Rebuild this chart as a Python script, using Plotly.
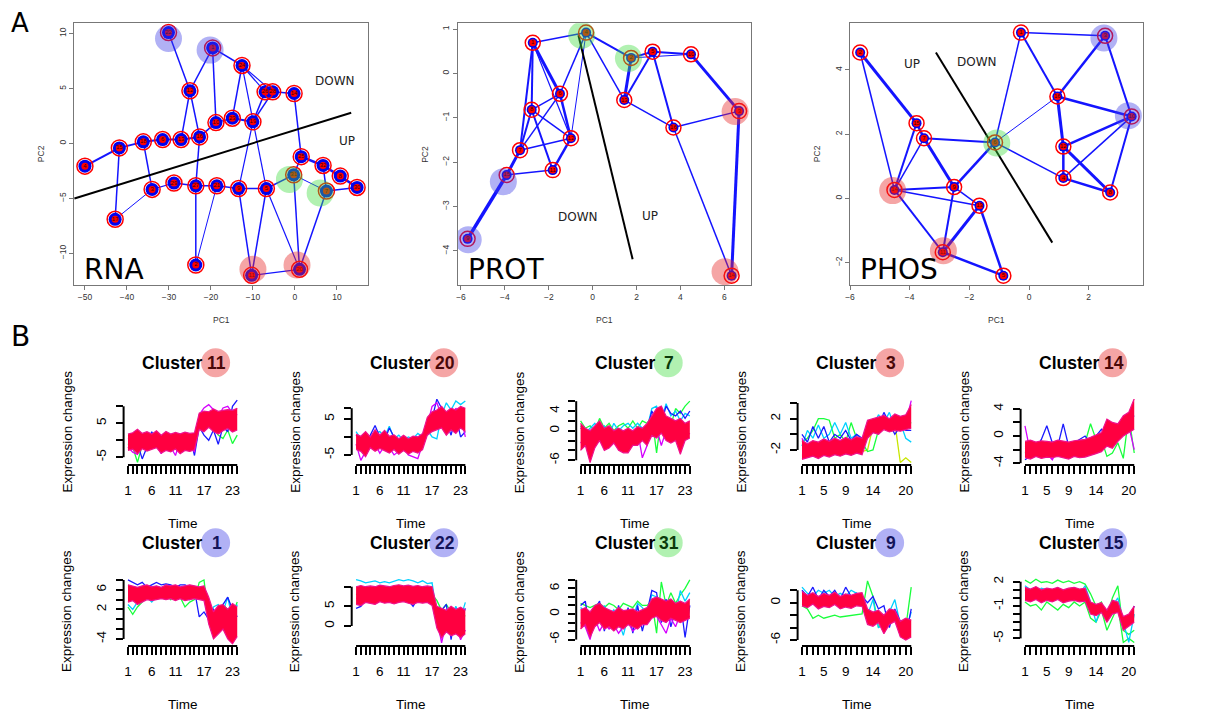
import plotly.graph_objects as go

W, H = 1224, 715
OFF = 8  # page body margin of the viewer


def fx(p):
    return (p - OFF) / W


def fy(p):
    return 1 - (p - OFF) / H


def sfx(k):
    return "" if k == 1 else str(k)


# ================= Panel A data =================
rna_labels = ["22", "1", "24", "12", "26", "28", "14", "10", "23", "19", "15", "4", "18", "6", "13", "16",
              "25", "32", "8", "30", "31", "7", "3", "29", "27", "21", "9", "5", "17", "2", "11", "20"]
rna_pc1 = [-30.1, -19.6, -12.6, -25.0, -7.1, -5.3, -0.2, -18.8, -14.9, -10.0, -41.8, -50.0, -36.1, -31.5, -27.1, -22.7,
           1.5, 6.7, 10.8, 14.8, -0.3, 7.5, -34.0, -28.8, -23.6, -18.6, -13.4, -6.8, -42.8, -23.6, -10.3, 1.1]
rna_pc2 = [10.1, 8.7, 7.1, 4.8, 4.7, 4.7, 4.55, 1.9, 2.3, 1.97, -0.4, -2.06, 0.15, 0.36, 0.36, 0.6,
           -1.2, -2.0, -2.97, -4.0, -2.85, -4.33, -4.18, -3.6, -3.85, -3.85, -4.1, -4.1, -6.9, -11.06, -12.0, -11.45]
rna_edges = [(11, 10, 2.2), (10, 12, 2), (12, 13, 2), (13, 14, 2), (14, 15, 2), (15, 7, 1.5), (7, 8, 1.5),
             (8, 9, 2), (7, 1, 1.5), (1, 3, 1.5), (0, 3, 1.5), (1, 2, 1.5), (2, 8, 1.5), (2, 4, 1.2), (2, 5, 1.2),
             (4, 9, 1.5), (5, 9, 1.5), (4, 5, 2), (5, 6, 1.5), (6, 16, 1.5), (16, 17, 2.5), (17, 18, 2.5),
             (18, 19, 2.5), (17, 21, 1.5), (16, 20, 1.5), (20, 21, 1), (21, 19, 1.5), (21, 31, 1.5), (20, 27, 1.5),
             (20, 31, 1.5), (3, 14, 1.5), (3, 15, 1.5), (10, 28, 1.5), (28, 22, 1), (22, 12, 1.5), (22, 23, 1.2),
             (23, 24, 1.5), (24, 25, 1.5), (25, 26, 1.5), (26, 27, 1.5), (15, 24, 1.5), (24, 29, 1.5),
             (29, 25, 1), (26, 30, 1.5), (9, 26, 1.2), (27, 30, 1.5), (2, 27, 1.2), (27, 31, 1.2), (30, 31, 1.2)]
rna_shade_x = [-30.1, -20.2, -1.3, 6.0, -10.0, 0.5]
rna_shade_y = [9.55, 8.5, -3.27, -4.5, -11.45, -11.06]
rna_shade_c = ["blue", "blue", "green", "green", "red", "red"]
rna_split_x = [-52.5, 13.4]
rna_split_y = [-5.0, 2.8]
rna_words = [("DOWN", 9.6, 5.7), ("UP", 12.4, 0.24)]

prot_labels = ["4", "1", "2", "5", "10", "6", "13", "8", "3", "16", "12", "7", "11", "15", "9", "14"]
prot_pc1 = [-0.30, -2.73, 1.75, 2.73, 4.48, -1.49, 1.44, -2.78, 6.67, 3.68, -0.99, -3.31, -1.82, -3.92, -5.70, 6.33]
prot_pc2 = [0.92, 0.69, 0.35, 0.49, 0.43, -0.46, -0.60, -0.82, -0.85, -1.22, -1.46, -1.73, -2.18, -2.29, -3.73, -4.56]
prot_edges = [(14, 13, 3.5), (13, 11, 3), (13, 12, 1.5), (11, 7, 2), (11, 1, 2), (11, 5, 1.5), (11, 10, 1.5),
              (7, 1, 2), (7, 5, 1.5), (7, 12, 2), (7, 10, 1.5), (1, 5, 3), (1, 10, 1.2), (1, 0, 1.5),
              (5, 10, 2.5), (5, 0, 1.5), (10, 12, 2.5), (10, 0, 1), (0, 2, 2), (0, 6, 1.5), (2, 6, 3), (2, 3, 2),
              (6, 3, 2), (6, 9, 1.5), (3, 4, 2), (3, 9, 2), (4, 8, 3), (9, 8, 1.5), (9, 15, 1.5), (8, 15, 3),
              (2, 4, 1)]
prot_shade_x = [-0.5, 1.63, 6.49, 6.03, -4.07, -5.67]
prot_shade_y = [0.86, 0.34, -0.86, -4.47, -2.44, -3.75]
prot_shade_c = ["green", "green", "red", "red", "blue", "blue"]
prot_split_x = [-0.65, 1.82]
prot_split_y = [0.86, -4.19]
prot_words = [("DOWN", -0.65, -3.24), ("UP", 2.61, -3.21)]

phos_labels = ["1", "3", "2", "16", "10", "15", "7", "6", "12", "4", "8", "14", "9", "13", "11", "5"]
phos_pc1 = [-0.27, 2.55, -5.66, 0.95, 3.44, -3.77, -3.52, -1.14, 1.15, 1.15, 2.72, -4.51, -2.51, -1.66, -2.89, -0.86]
phos_pc2 = [5.16, 5.06, 4.54, 3.17, 2.55, 2.34, 1.87, 1.74, 1.61, 0.63, 0.18, 0.26, 0.35, -0.23, -1.68, -2.41]
phos_edges = [(2, 5, 3), (2, 11, 1.5), (5, 6, 2.5), (5, 11, 2), (6, 11, 1.5), (6, 12, 3), (6, 7, 2),
              (11, 12, 2), (11, 13, 1.5), (11, 14, 2), (12, 7, 2.5), (12, 14, 2), (13, 14, 3), (13, 15, 2.5),
              (14, 15, 2.5), (7, 0, 1.5), (7, 3, 1), (7, 9, 1.5), (0, 1, 1.5), (0, 3, 2), (3, 1, 2.5),
              (3, 4, 2.5), (3, 8, 3), (8, 4, 2.5), (8, 9, 2.5), (8, 10, 3), (9, 4, 1.5), (9, 10, 2.5),
              (4, 10, 2), (4, 1, 2), (12, 13, 1.5)]
phos_shade_x = [2.51, 3.33, -1.08, -4.57, -2.87]
phos_shade_y = [4.99, 2.57, 1.72, 0.24, -1.63]
phos_shade_c = ["blue", "blue", "green", "red", "red"]
phos_split_x = [-3.12, 0.78]
phos_split_y = [4.54, -1.38]
phos_words = [("UP", -3.93, 4.19), ("DOWN", -1.75, 4.23)]

# ================= Panel B data =================
rna_time = list(range(1, 25))
pp_time = list(range(1, 22))

c11_hi = [1.8, 2.2, 3.2, 2.0, 2.5, 1.8, 2.8, 1.5, 2.6, 1.8, 2.3, 1.9, 2.4, 2.0, 2.2, 8.0, 8.6, 8.4, 9.2, 8.5, 8.8, 9.0, 8.8, 9.4]
c11_lo = [-3.0, -2.6, -4.0, -2.5, -3.2, -2.8, -2.2, -3.8, -3.0, -3.4, -2.6, -4.0, -3.0, -3.3, -2.8, 3.2, 2.5, 3.8, 2.6, 1.8, 2.8, 3.5, 2.4, 3.0]
c11_extra = [
    ("green", [-1.0, -2.0, -6.5, -1.5, -3.0, 0.5, -2.0, 0.0, -1.5, 0.5, -2.0, 0.0, -1.0, 1.0, 0.0, 6.0, 4.0, 5.0, 3.5, 1.5, 0.5, 3.0, -1.0, 1.5]),
    ("blue", [0.5, 1.0, -1.0, -5.5, -2.0, 2.5, 0.0, -1.5, 1.0, -2.5, 0.5, -1.0, 2.0, 1.5, -4.5, 4.0, 1.5, 0.0, 3.0, -1.2, 4.0, 2.5, 10.0, 11.8]),
    ("magenta", [-2.0, -3.5, -4.2, -1.0, -3.0, 0.0, -1.5, -4.0, -0.5, -2.0, -4.5, 0.0, -2.5, -1.0, -3.5, 7.5, 9.5, 10.5, 9.0, 7.0, 9.5, 10.0, 8.0, 7.5]),
]
c20_hi = [0.8, 0.2, 1.5, 0.0, 2.0, 0.5, 1.8, 0.2, 0.6, -0.5, 0.5, -0.5, 0.2, 0.0, 1.0, 5.5, 7.0, 7.5, 8.5, 7.0, 8.0, 7.5, 8.5, 8.0]
c20_lo = [-3.5, -4.0, -5.5, -3.0, -4.0, -3.2, -3.8, -4.5, -3.5, -4.8, -3.8, -4.8, -4.0, -4.5, -3.5, 0.5, 1.5, 2.0, 2.5, 0.5, 2.0, 1.0, 2.5, 1.5]
c20_extra = [
    ("cyan", [1.5, -0.5, 0.5, -1.0, 1.0, 1.5, 0.0, 3.0, -0.5, 0.5, -1.0, 0.0, -0.5, 1.0, 0.0, 2.0, 0.0, -0.5, 6.0, 9.5, 7.5, 10.0, 9.0, 10.0]),
    ("blue", [0.5, -1.0, -1.5, 0.5, 3.2, 0.0, -1.0, 2.5, 0.0, -2.0, 0.0, -1.0, -1.5, 0.0, 0.5, 3.5, 5.0, 10.5, 8.0, 4.0, 0.5, 6.0, 0.0, 1.5]),
    ("magenta", [-2.0, -6.5, -4.0, -3.0, -2.0, -4.5, -2.5, -3.0, -5.0, -4.0, -3.0, -5.0, -5.5, -6.0, -2.0, 3.0, 8.5, 9.5, 6.0, 5.5, 4.0, 8.0, 6.0, 0.0]),
]
c7_hi = [1.5, 0.5, 0.0, 1.0, 2.0, 0.5, 1.0, 0.0, 0.5, 0.0, 0.5, 0.0, 0.8, 0.5, 1.5, 3.0, 4.5, 5.0, 3.0, 2.5, 2.0, 2.5, 1.5, 2.0]
c7_lo = [-4.0, -3.0, -6.5, -3.5, -2.0, -4.0, -3.5, -2.5, -4.0, -4.5, -4.5, -3.0, -3.0, -2.0, -3.0, -1.0, -1.5, -0.5, -2.0, -2.5, -2.0, -4.8, -2.0, -1.5]
c7_extra = [
    ("green", [2.0, 0.5, 1.0, 0.0, 2.5, 0.5, 1.5, 0.0, 1.0, 1.5, 0.5, 2.0, 0.5, 2.0, 1.5, 3.0, -4.5, 3.0, 2.0, 1.0, 4.5, 3.5, 5.0, 6.0]),
    ("cyan", [1.0, -0.5, 0.5, 1.5, 0.0, 1.0, -1.0, 1.5, 0.0, 1.0, 1.5, 0.5, 1.5, 0.5, 0.5, 4.5, 5.0, 2.0, 5.5, 3.0, 4.0, 2.0, 3.5, 3.0]),
    ("blue", [0.5, 0.0, -1.5, -0.5, 1.0, -1.5, 0.0, -2.0, 0.5, -1.0, -0.5, 0.0, -2.0, -1.0, 0.0, 4.0, 2.0, 1.5, 5.0, 3.5, 3.0, 4.0, 2.5, 4.0]),
    ("magenta", [-2.5, -1.5, -3.0, -2.0, 0.0, -3.0, -1.0, -2.5, -1.5, -3.5, -1.0, -2.0, 0.0, -5.5, -3.0, 1.0, 0.5, -3.0, 0.0, -2.0, -1.0, 0.5, -1.5, -0.5]),
]
c3_hi = [-0.8, -1.2, -0.8, -1.0, -0.6, -0.9, -0.5, -0.8, -0.4, -0.7, -0.3, -0.5, 1.8, 2.0, 2.2, 2.4, 2.0, 2.6, 2.3, 2.5, 3.8]
c3_lo = [-3.2, -3.0, -2.8, -3.1, -2.7, -2.9, -2.6, -2.8, -2.5, -2.7, -2.4, -2.6, -0.5, 0.2, 0.0, 0.6, 0.3, 0.5, 0.4, 0.6, 0.8]
c3_extra = [
    ("yellow", [-1.5, -1.5, -1.2, -1.5, -1.3, -1.4, -1.2, -1.4, -1.3, -1.4, -1.2, -2.2, -2.0, 1.0, 1.5, 1.2, 1.8, 1.5, -3.6, -3.0, -3.6]),
    ("green", [-1.0, -0.5, 0.5, 2.0, 2.0, 1.8, -0.5, 0.0, -1.0, 1.5, -0.5, -1.0, -2.2, -2.0, 0.5, 1.5, 1.0, 0.5, 1.5, 1.0, 1.5]),
    ("cyan", [-1.5, 0.5, -0.5, 1.2, -0.5, 0.0, 1.5, 0.0, 1.5, -0.5, 0.0, -0.8, 0.0, 1.0, 2.5, 1.5, 2.8, 0.8, 1.5, -0.5, -1.0]),
    ("blue", [0.0, -1.0, 1.0, -0.5, 1.0, -1.0, 0.0, -0.5, 0.5, -0.8, 0.0, -0.5, 0.0, 0.5, 1.0, 2.8, 1.5, 0.0, 1.0, 0.5, 0.5]),
    ("magenta", [-0.5, -2.0, -1.5, -2.5, -1.0, -2.0, -1.5, -2.5, -1.0, -2.0, -1.5, -1.8, 0.5, 1.0, 0.0, 1.5, 0.5, 1.0, 0.5, 1.5, 4.3]),
]
c14_hi = [-0.8, -0.6, -0.9, -0.7, -0.8, -0.9, -0.6, -0.8, -0.9, -0.7, -0.6, -0.5, -0.2, 0.2, 0.5, 2.5, 2.0, 1.8, 3.0, 3.5, 5.5]
c14_lo = [-3.2, -3.4, -3.0, -3.3, -3.1, -3.2, -3.0, -3.2, -3.4, -3.0, -3.2, -3.1, -2.9, -2.6, -2.3, -1.5, -1.8, -0.8, 0.0, 0.5, 1.0]
c14_extra = [
    ("green", [-2.5, -2.0, -1.5, -2.0, -2.0, -1.0, -2.0, -1.5, -2.0, -1.5, -1.5, -1.0, 1.8, -0.5, -0.5, -3.0, -2.5, -1.0, -3.3, 3.0, -2.5]),
    ("blue", [-3.5, -3.0, -2.0, -0.5, 1.5, -1.0, -1.5, 1.8, -1.5, -1.0, -0.5, 0.0, -1.0, 0.0, 1.0, 0.0, -1.5, 1.0, 2.0, 2.5, 3.0]),
    ("magenta", [1.5, -2.5, -2.0, -3.0, -2.5, -3.5, -2.0, -2.5, -3.0, -2.0, -2.5, -2.0, -2.0, -1.0, -2.0, 0.5, -1.0, 0.5, 1.0, 1.5, -2.0]),
]
c1_hi = [7.0, 6.8, 6.5, 6.8, 7.0, 6.6, 6.8, 6.5, 7.0, 6.8, 7.0, 6.6, 6.8, 7.0, 6.8, 6.6, 6.8, 4.5, 1.5, 2.8, 3.0, 2.0, 3.2, 2.5]
c1_lo = [3.5, 3.8, 3.0, 3.5, 4.0, 3.8, 4.0, 4.2, 4.0, 4.2, 3.8, 4.2, 3.8, 4.0, 4.2, 4.0, 3.8, -1.0, -4.0, -3.0, -2.0, -4.0, -5.0, -3.5]
c1_extra = [
    ("green", [2.5, 1.0, 2.5, 3.5, 4.5, 4.0, 5.0, 4.5, 5.0, 4.0, 5.5, 4.5, 2.5, 3.5, 4.0, 7.5, 8.0, 0.5, -2.0, 1.0, 3.0, 2.0, 1.0, 3.5]),
    ("cyan", [3.0, 2.0, 3.5, 4.0, 4.5, 3.5, 4.5, 5.0, 4.5, 5.0, 4.0, 5.0, 4.5, 4.0, 5.0, 6.0, 5.5, 0.0, 2.5, 3.0, 1.5, 4.5, 0.0, 3.0]),
    ("blue", [8.0, 7.5, 7.0, 7.5, 6.5, 7.0, 7.5, 7.0, 7.2, 7.0, 6.5, 7.0, 7.0, 6.5, 6.0, 0.5, 1.5, 0.0, 2.0, 1.0, 3.0, 4.5, 2.0, 0.5]),
]
c22_hi = [10.0, 10.3, 10.0, 10.2, 10.0, 10.4, 10.2, 10.0, 10.3, 10.5, 10.2, 10.4, 10.1, 10.3, 10.0, 10.2, 10.0, 5.0, 4.5, 4.0, 5.0, 4.2, 4.8, 4.0]
c22_lo = [5.5, 5.2, 6.0, 5.8, 5.5, 6.2, 5.8, 6.0, 5.6, 6.0, 6.2, 5.8, 5.5, 6.0, 5.8, 6.0, 5.2, -0.5, -3.0, -1.5, -2.5, -2.0, -3.0, -2.0]
c22_extra = [
    ("cyan", [11.8, 11.5, 11.0, 11.2, 11.5, 11.0, 11.3, 11.0, 11.5, 11.8, 11.5, 11.8, 11.5, 11.0, 11.5, 10.8, 11.0, 3.0, 2.5, 3.5, 2.0, 5.0, 2.0, 6.0]),
    ("green", [8.0, 8.5, 9.0, 8.5, 9.0, 8.5, 9.0, 8.5, 9.0, 9.5, 9.0, 8.5, 9.0, 9.5, 9.0, 8.5, 8.0, 6.5, 4.0, 5.5, 3.5, 4.0, 3.0, 2.5]),
    ("blue", [4.5, 5.0, 6.5, 7.0, 6.5, 7.0, 6.5, 7.0, 7.5, 7.0, 8.0, 6.5, 5.0, 7.0, 8.0, 8.5, 9.5, 1.5, 4.0, 5.5, -3.5, 4.0, 1.0, 4.5]),
    ("magenta", [7.0, 7.5, 7.0, 8.0, 7.5, 8.0, 7.0, 7.5, 8.0, 7.5, 7.0, 8.0, 7.5, 7.0, 7.5, 8.0, 7.0, 2.0, -4.3, 1.0, -1.0, 0.5, -3.5, -1.0]),
]
c31_hi = [1.0, 1.5, 0.5, 2.0, 2.5, 1.5, 1.0, 0.5, 1.5, 0.8, 1.0, 1.2, 0.5, 1.0, 1.5, 3.5, 4.0, 3.5, 3.0, 3.5, 2.5, 3.0, 2.5, 3.5]
c31_lo = [-3.5, -2.5, -5.5, -3.0, -2.0, -3.5, -3.0, -4.0, -3.0, -3.5, -2.5, -3.0, -3.5, -2.5, -2.5, -1.0, -0.5, -1.5, -2.0, -1.0, -1.5, -2.0, -1.5, -1.0]
c31_extra = [
    ("green", [2.5, 2.0, 1.5, 2.0, 2.5, 1.5, 2.5, 2.0, 1.0, 2.5, 2.0, 1.5, 3.0, 2.0, 2.0, 3.0, -4.5, 7.5, 2.0, 5.0, 2.5, 4.5, 6.0, 8.0]),
    ("cyan", [1.5, 0.5, -2.0, 1.5, -1.0, 2.0, -0.5, 1.0, -1.5, -5.0, -0.5, -1.0, 2.5, 1.5, 0.0, 4.5, 4.0, 3.0, 1.0, 2.5, 0.0, 5.5, 3.0, 5.0]),
    ("blue", [2.0, 3.0, -4.5, 1.0, 3.0, -4.0, 0.5, -3.5, 2.0, -3.0, 1.5, -4.5, 2.0, -4.0, 0.5, 5.5, 5.0, -2.0, 3.5, -3.0, 1.0, 3.0, -5.5, 2.0]),
    ("magenta", [-2.0, -3.0, -6.0, -1.0, -4.0, -2.0, -3.5, -2.5, -4.5, -3.0, -2.0, -4.0, -3.0, -2.5, -1.0, 1.5, -0.5, -2.5, -4.5, -1.0, -3.0, 0.0, -1.0, -0.5]),
]
c9_hi = [1.8, 1.2, 1.6, 1.0, 1.5, 1.2, 1.7, 1.0, 1.4, 1.2, 1.5, 1.6, -1.0, -1.5, -1.2, -2.0, -1.0, -1.2, -3.0, -2.5, -2.8]
c9_lo = [-0.5, -0.8, -0.2, -1.0, -0.6, -0.8, -0.3, -1.0, -0.7, -0.9, -0.5, -0.6, -3.5, -3.8, -3.2, -5.0, -3.5, -3.0, -5.5, -6.0, -5.5]
c9_extra = [
    ("green", [-0.5, -1.0, -2.5, -2.0, -2.5, -2.3, -2.0, -2.3, -2.2, -2.0, -2.0, -1.8, 3.5, 1.0, -4.0, -3.0, -2.0, -2.5, -3.0, -4.0, 2.5]),
    ("cyan", [2.5, 1.5, 1.0, 2.0, 1.5, 2.0, 1.0, 1.5, 1.0, 2.0, 1.5, 0.5, -2.0, 0.5, -4.0, -3.5, -1.5, 0.5, -3.5, -4.5, -1.5]),
    ("blue", [2.0, 1.0, 2.5, 0.5, 2.0, 1.0, 2.0, 0.5, 2.5, 1.0, 1.5, 1.0, 0.0, 1.0, -1.0, -0.5, -4.0, -1.0, -3.0, -5.5, -1.0]),
]
c15_hi = [1.3, 1.1, 1.4, 1.0, 1.2, 1.1, 1.3, 1.0, 1.2, 1.3, 1.1, 1.2, -0.5, -0.8, -0.6, -1.5, -0.3, -0.5, -2.3, -2.0, -1.0]
c15_lo = [-0.3, -0.5, -0.2, -0.6, -0.3, -0.5, -0.2, -0.6, -0.4, -0.3, -0.5, -0.4, -2.0, -2.2, -1.8, -3.0, -2.0, -1.8, -4.0, -3.5, -3.0]
c15_extra = [
    ("green", [2.2, 1.8, 2.3, 1.9, 2.0, 1.8, 2.2, 1.9, 2.1, 1.8, 2.0, 1.7, 0.5, -1.0, -0.5, -2.5, 0.0, 1.5, -4.0, -4.5, -4.0]),
    ("green", [-0.5, -1.0, -0.8, -1.5, -0.5, -1.0, -1.5, -0.8, -1.2, -0.5, -1.0, -0.5, -2.5, -3.0, -1.5, -4.0, -2.5, -1.0, -5.5, -5.0, -5.5]),
    ("cyan", [1.5, 1.0, 0.5, 1.2, 1.0, 0.3, 1.0, 0.5, 0.8, 1.0, 0.5, 1.5, -0.5, -3.0, -1.0, -2.0, -1.0, 0.0, -3.0, -5.5, -2.0]),
    ("blue", [1.0, 0.8, 1.2, 0.8, 1.0, 0.8, 1.0, 0.8, 1.0, 0.8, 1.0, 0.9, -1.5, -2.0, -1.5, -2.5, -1.5, -1.0, -3.5, -3.0, -1.0]),
]

rna_tick_text = {1: "1", 6: "6", 11: "11", 17: "17", 23: "23"}
pp_tick_text = {1: "1", 5: "5", 9: "9", 14: "14", 20: "20"}

# cluster: (name, hi, lo, extra, time, row, col, shade, yrange, yticks, ylabels)
clusters = [
    ("11", c11_hi, c11_lo, c11_extra, rna_time, 0, 0, "red", [-7.3, 12.15], [-5, 0, 5, 10], ["-5", "", "5", ""]),
    ("20", c20_hi, c20_lo, c20_extra, rna_time, 0, 1, "red", [-7.8, 10.56], [-5, 0, 5, 8], ["-5", "", "5", ""]),
    ("7", c7_hi, c7_lo, c7_extra, rna_time, 0, 2, "green", [-6.97, 6.44], [-6, -4, -2, 0, 2, 4, 6], ["-6", "", "", "0", "", "4", ""]),
    ("3", c3_hi, c3_lo, c3_extra, pp_time, 0, 3, "red", [-3.92, 4.51], [-2, 0, 2, 4], ["-2", "", "2", ""]),
    ("14", c14_hi, c14_lo, c14_extra, pp_time, 0, 4, "red", [-4.27, 5.45], [-4, -2, 0, 2, 4], ["-4", "", "0", "", "4"]),
    ("1", c1_hi, c1_lo, c1_extra, rna_time, 1, 0, "blue", [-5.43, 8.6], [-4, -2, 0, 2, 4, 6, 8], ["-4", "", "", "2", "", "6", ""]),
    ("22", c22_hi, c22_lo, c22_extra, rna_time, 1, 1, "blue", [-5.09, 12.47], [0, 5, 10], ["0", "5", ""]),
    ("31", c31_hi, c31_lo, c31_extra, rna_time, 1, 2, "green", [-7.5, 8.67], [-6, -4, -2, 0, 2, 4, 6, 8], ["-6", "", "", "0", "", "", "6", ""]),
    ("9", c9_hi, c9_lo, c9_extra, pp_time, 1, 3, "blue", [-6.96, 4.13], [-6, -4, -2, 0, 2], ["-6", "", "", "0", ""]),
    ("15", c15_hi, c15_lo, c15_extra, pp_time, 1, 4, "blue", [-5.94, 2.58], [-5, -4, -3, -2, -1, 0, 1, 2], ["-5", "", "", "", "-1", "", "", "2"]),
]

# ================= styling =================
SHADE = {"red": "rgba(230,40,40,0.42)", "blue": "rgba(60,60,230,0.40)", "green": "rgba(60,220,60,0.40)"}
NUMCOL = {"red": "#4a0808", "blue": "#14145a", "green": "#0a3a0a"}
LINECOL = {"green": "#19ff3c", "blue": "#1a1aff", "cyan": "#00d0ff", "magenta": "#d400ff",
           "yellow": "#c8e600"}
BAND = "#ff0040"
EDGE_BLUE = "rgb(20,20,255)"
FONT = "Liberation Sans"
FONT2 = "DejaVu Sans"

fig = go.Figure()
layout = dict(width=W, height=H, margin=dict(l=0, r=0, t=0, b=0), showlegend=False,
              plot_bgcolor="white", paper_bgcolor="white", autosize=False)
annotations = []
shapes = []


def note(x, y, text, size, color="black", family=FONT, angle=0, xanchor="center", yanchor="middle", pad=1):
    annotations.append(dict(x=fx(x), y=fy(y), xref="paper", yref="paper", text=text, showarrow=False,
                            xanchor=xanchor, yanchor=yanchor, textangle=angle, borderpad=pad,
                            font=dict(size=size, color=color, family=family)))


# ---------------- Panel A ----------------
panelA = [
    (1, rna_labels, rna_pc1, rna_pc2, rna_edges, rna_shade_x, rna_shade_y, rna_shade_c, rna_split_x, rna_split_y,
     rna_words, "RNA", (74, 368), [-52.6, 17.4], [-12.88, 10.94], list(range(-50, 11, 10)), [-10, -5, 0, 5, 10],
     (13, 16, 7)),
    (2, prot_labels, prot_pc1, prot_pc2, prot_edges, prot_shade_x, prot_shade_y, prot_shade_c, prot_split_x,
     prot_split_y, prot_words, "PROT", (457.7, 750.7), [-6.15, 7.2], [-4.77, 1.13], [-6, -4, -2, 0, 2, 4, 6],
     [-4, -3, -2, -1, 0, 1], (10, 15, 7)),
    (3, phos_labels, phos_pc1, phos_pc2, phos_edges, phos_shade_x, phos_shade_y, phos_shade_c, phos_split_x,
     phos_split_y, phos_words, "PHOS", (850, 1143.3), [-6.0, 3.83], [-2.70, 5.45], [-6, -4, -2, 0, 2],
     [-2, 0, 2, 4], (10, 15, 7)),
]
A_TOP, A_BOT = 23.3, 285
for (k, labs, xs, ys, edges, shx, shy, shc, spx, spy, words, big, (xl, xr), xr_, yr_, xt, yt, sizes) in panelA:
    xa, ya = "x" + sfx(k), "y" + sfx(k)
    widths = sorted(set(e[2] for e in edges))
    for wdt in widths:
        ex, ey = [], []
        for a, b, w in edges:
            if w == wdt:
                ex += [xs[a], xs[b], None]
                ey += [ys[a], ys[b], None]
        fig.add_trace(go.Scatter(x=ex, y=ey, mode="lines", line=dict(color=EDGE_BLUE, width=wdt),
                                 xaxis=xa, yaxis=ya, hoverinfo="skip"))
    fig.add_trace(go.Scatter(x=spx, y=spy, mode="lines", line=dict(color="black", width=2),
                             xaxis=xa, yaxis=ya, hoverinfo="skip"))
    sb, sr, sd = sizes
    fig.add_trace(go.Scatter(x=xs, y=ys, mode="markers", marker=dict(size=sb, color="#0000ee"),
                             xaxis=xa, yaxis=ya, hoverinfo="skip"))
    fig.add_trace(go.Scatter(x=xs, y=ys, mode="markers",
                             marker=dict(size=sr, symbol="circle-open", color="#ff0000",
                                         line=dict(width=1.5, color="#ff0000")),
                             xaxis=xa, yaxis=ya, hoverinfo="skip"))
    fig.add_trace(go.Scatter(x=xs, y=ys, mode="markers+text", text=labs, textposition="middle center",
                             textfont=dict(size=6, color="#3a0000", family=FONT),
                             marker=dict(size=sd, color="#ff0000"),
                             xaxis=xa, yaxis=ya, hoverinfo="skip"))
    fig.add_trace(go.Scatter(x=shx, y=shy, mode="markers",
                             marker=dict(size=27, color=[SHADE[c] for c in shc], line=dict(width=0)),
                             xaxis=xa, yaxis=ya, hoverinfo="skip"))
    for (t, wx, wy) in words:
        annotations.append(dict(x=wx, y=wy, xref=xa, yref=ya, text=t, showarrow=False,
                                xanchor="center", yanchor="middle",
                                font=dict(size=12, color="#222", family=FONT2)))
    note(xl + 8, 269, big, 28, family=FONT2, xanchor="left")
    axfont = dict(size=8.5, color="#333", family=FONT)
    layout["xaxis" + sfx(k)] = dict(domain=[fx(xl), fx(xr)], range=xr_, anchor=ya, tickvals=xt,
                                    showgrid=False, zeroline=False, showline=True, mirror=True,
                                    linecolor="#777", linewidth=1, ticks="outside", ticklen=4,
                                    tickcolor="#777", tickfont=axfont, automargin=False)
    layout["yaxis" + sfx(k)] = dict(domain=[fy(A_BOT), fy(A_TOP)], range=yr_, anchor=xa, tickvals=yt,
                                    showgrid=False, zeroline=False, showline=True, mirror=True,
                                    linecolor="#777", linewidth=1, ticks="outside", ticklen=4,
                                    tickcolor="#777", tickfont=axfont, tickangle=-90, automargin=False)
    note((xl + xr) / 2, 320, "PC1", 8.5, color="#333")
    note(xl - 33, (A_TOP + A_BOT) / 2, "PC2", 8.5, color="#333", angle=-90)

note(20, 23, "A", 26, family=FONT2, pad=0)
note(20, 337, "B", 28, family=FONT2, pad=0)

# ---------------- Panel B ----------------
col_left = [123.6, 351.7, 576.2, 797.6, 1020.6]
col_w = 118
row_box = [(399, 465), (577, 646)]
title_y = [362.7, 542.7]
for i, (name, hi, lo, extra, tt, r, c, shade, yrng, ytv, ytl) in enumerate(clusters):
    k = 4 + i
    xa, ya = "x" + sfx(k), "y" + sfx(k)
    for colname, vals in extra:
        fig.add_trace(go.Scatter(x=tt, y=vals, mode="lines", line=dict(color=LINECOL[colname], width=1.3),
                                 xaxis=xa, yaxis=ya, hoverinfo="skip"))
    fig.add_trace(go.Scatter(x=tt, y=lo, mode="lines", line=dict(color="#f0108c", width=1.2),
                             xaxis=xa, yaxis=ya, hoverinfo="skip"))
    fig.add_trace(go.Scatter(x=tt, y=hi, mode="lines", fill="tonexty", fillcolor=BAND,
                             line=dict(color="#f0108c", width=1.2), xaxis=xa, yaxis=ya, hoverinfo="skip"))
    n = len(tt)
    ttext = rna_tick_text if n == 24 else pp_tick_text
    left = col_left[c]
    top, bot = row_box[r]
    tickf = dict(size=13.5, color="black", family=FONT)
    layout["xaxis" + sfx(k)] = dict(domain=[fx(left), fx(left + col_w)],
                                    range=[1 - 0.04 * (n - 1), n + 0.04 * (n - 1)],
                                    anchor=ya, tickvals=tt, ticktext=[ttext.get(v, "") for v in tt],
                                    ticks="outside", ticklen=8, tickwidth=2, tickcolor="black",
                                    showline=False, showgrid=False, zeroline=False, tickfont=tickf,
                                    ticklabelstandoff=5, tickangle=0, automargin=False)
    layout["yaxis" + sfx(k)] = dict(domain=[fy(bot), fy(top)], range=yrng, anchor=xa, tickvals=ytv, ticktext=ytl,
                                    ticks="outside", ticklen=7, tickwidth=2, tickcolor="black",
                                    showline=False, showgrid=False, zeroline=False, tickfont=tickf,
                                    tickangle=-90, ticklabelstandoff=4, automargin=False)
    shapes.append(dict(type="line", xref=xa, yref=ya + " domain", x0=1, x1=n, y0=0, y1=0,
                       line=dict(color="black", width=2)))
    shapes.append(dict(type="line", xref=xa + " domain", yref=ya, x0=0, x1=0, y0=ytv[0], y1=ytv[-1],
                       line=dict(color="black", width=2)))
    cx = left + col_w / 2
    circ_x = cx + 33
    ty = title_y[r]
    shapes.append(dict(type="circle", xref="paper", yref="paper", x0=fx(circ_x - 14.5), x1=fx(circ_x + 14.5),
                       y0=fy(ty + 14.5), y1=fy(ty - 14.5), fillcolor=SHADE[shade], line=dict(width=0),
                       layer="below"))
    note(circ_x - 12.5, ty, "<b>Cluster</b>", 17.5, xanchor="right", pad=0)
    note(circ_x + 1, ty, "<b>" + name + "</b>", 17.5, color=NUMCOL[shade], pad=0)
    note(cx, bot + 58, "Time", 13.5)
    note(left - 57, (top + bot) / 2, "Expression changes", 13.5, angle=-90)

layout["annotations"] = annotations
layout["shapes"] = shapes
fig.update_layout(**layout)
fig.write_html("out.html")
